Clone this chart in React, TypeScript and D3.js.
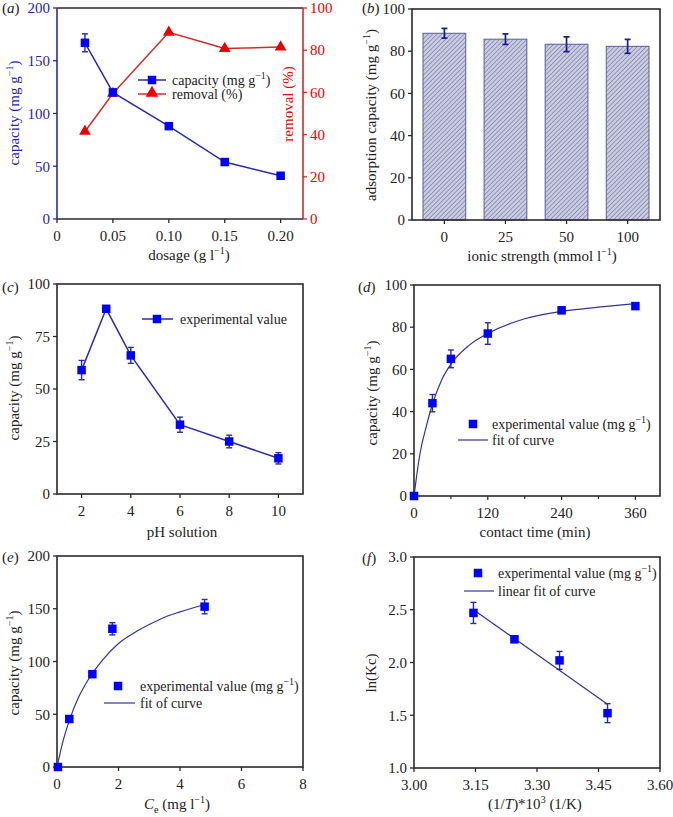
import React from 'react';
import * as d3 from 'd3';

const SERIF = 'Liberation Serif';
const AXIS = '#2a2a2a';
const NAVY = '#2b2ba6';
const BLUE = '#0000ff';
const RED_LINE = '#d42a2a';
const RED = '#ee0000';
const FIT = '#33339c';
const LEFT_BLUE = '#2424c0';

// ---------- (a) dosage ----------
const dosage = [0.025, 0.05, 0.1, 0.15, 0.2];
const dosageCapacity = [167, 120, 88, 54, 41];
const dosageCapacityErr = [8.5, 3, 2, 2, 2];
const dosageRemoval = [41.5, 59.5, 88.5, 80.8, 81.5];
const aXTicks = [0, 0.05, 0.1, 0.15, 0.2];
const aXTickLabels = ['0', '0.05', '0.10', '0.15', '0.20'];
const aYLeftTicks = [0, 50, 100, 150, 200];
const aYRightTicks = [0, 20, 40, 60, 80, 100];

// ---------- (b) ionic strength ----------
const ionicCats = ['0', '25', '50', '100'];
const ionicValues = [88.5, 85.7, 83.3, 82.3];
const ionicErr = [2.3, 2.5, 3.5, 3.3];
const bYTicks = [0, 20, 40, 60, 80, 100];

// ---------- (c) pH ----------
const ph = [2, 3, 4, 6, 8, 10];
const phCapacity = [59, 88.2, 66, 33, 25, 17];
const phErr = [4.6, 1, 3.8, 3.6, 3, 2.7];
const cXTicks = [2, 4, 6, 8, 10];
const cYTicks = [0, 25, 50, 75, 100];

// ---------- (d) contact time ----------
const time = [0, 30, 60, 120, 240, 360];
const timeCapacity = [0, 44, 65, 77, 88, 90];
const timeErr = [0, 4.1, 4.2, 5.1, 1.5, 1.5];
const timeFitX = [0, 5, 10, 20, 30, 45, 60, 90, 120, 180, 240, 300, 360];
const timeFitY = [0, 11, 20.5, 33, 43.5, 55, 62.5, 71.5, 77, 84, 87.5, 89.5, 91.2];
const dXTicks = [0, 120, 240, 360];
const dXMinor = [60, 180, 300];
const dYTicks = [0, 20, 40, 60, 80, 100];

// ---------- (e) Ce ----------
const ce = [0.03, 0.4, 1.15, 1.8, 4.8];
const ceCapacity = [0, 45.5, 88, 131, 152];
const ceErr = [0, 1.5, 2, 5.8, 6.8];
const ceFitX = [0, 0.1, 0.2, 0.4, 0.7, 1.0, 1.5, 2.0, 2.5, 3.0, 3.5, 4.0, 4.8];
const ceFitY = [0, 13, 25, 44, 66, 82, 102, 117, 127, 135, 142, 147, 154];
const eXTicks = [0, 2, 4, 6, 8];
const eYTicks = [0, 50, 100, 150, 200];

// ---------- (f) thermodynamics ----------
const invT = [3.145, 3.245, 3.355, 3.472];
const lnKc = [2.47, 2.22, 2.02, 1.52];
const lnKcErr = [0.1, 0.03, 0.085, 0.09];
const lnFitX = [3.145, 3.472];
const lnFitY = [2.5, 1.605];
const fXTicks = [3.0, 3.15, 3.3, 3.45, 3.6];
const fYTicks = [1.0, 1.5, 2.0, 2.5, 3.0];

type Scale = (v: any) => number;

function ErrBar({ x, lo, hi, color, cap = 6, w = 1.4 }: { x: number; lo: number; hi: number; color: string; cap?: number; w?: number }) {
  return (
    <g stroke={color} strokeWidth={w}>
      <line x1={x} x2={x} y1={lo} y2={hi} />
      <line x1={x - cap / 2} x2={x + cap / 2} y1={lo} y2={lo} />
      <line x1={x - cap / 2} x2={x + cap / 2} y1={hi} y2={hi} />
    </g>
  );
}

function Sq({ x, y, s = 8.5 }: { x: number; y: number; s?: number }) {
  return <rect x={x - s / 2} y={y - s / 2} width={s} height={s} fill={BLUE} />;
}

function supU(t: string, after: string) {
  return (
    <>
      <tspan dy={-6} fontSize={10}>{t}</tspan>
      <tspan dy={6}>{after}</tspan>
    </>
  );
}

const T = (props: any) => <text {...props} style={{ fontFamily: SERIF + ', serif' }} />;

function PanelLabel({ x, y, letter }: { x: number; y: number; letter: string }) {
  return (
    <T x={x} y={y} fontSize={15} fill="#222">
      (<tspan fontStyle="italic">{letter}</tspan>)
    </T>
  );
}

function XAxis({ sx, y, ticks, labels, minor = [], color = AXIS }: { sx: Scale; y: number; ticks: any[]; labels: string[]; minor?: any[]; color?: string }) {
  return (
    <g>
      {ticks.map((t, i) => (
        <g key={'t' + i}>
          <line x1={sx(t)} x2={sx(t)} y1={y} y2={y + 4} stroke={color} strokeWidth={1.3} />
          <T x={sx(t)} y={y + 22} textAnchor="middle" fontSize={15} fill="#222">{labels[i]}</T>
        </g>
      ))}
      {minor.map((t, i) => (
        <line key={'m' + i} x1={sx(t)} x2={sx(t)} y1={y} y2={y + 3} stroke={color} strokeWidth={1.2} />
      ))}
    </g>
  );
}

function YAxis({ sy, x, ticks, labels, color = AXIS, textColor = '#222', right = false }: { sy: Scale; x: number; ticks: number[]; labels: string[]; color?: string; textColor?: string; right?: boolean }) {
  const dir = right ? 1 : -1;
  return (
    <g>
      {ticks.map((t, i) => (
        <g key={i}>
          <line x1={x} x2={x + dir * 4} y1={sy(t)} y2={sy(t)} stroke={color} strokeWidth={1.3} />
          <T x={x + dir * 7} y={sy(t)} dy="0.35em" textAnchor={right ? 'start' : 'end'} fontSize={15} fill={textColor}>{labels[i]}</T>
        </g>
      ))}
    </g>
  );
}

function Box({ x0, x1, y0, y1 }: { x0: number; x1: number; y0: number; y1: number }) {
  return <rect x={x0} y={y0} width={x1 - x0} height={y1 - y0} fill="none" stroke={AXIS} strokeWidth={1.6} />;
}

function YTitle({ x, y, children, color = '#222' }: { x: number; y: number; children: any; color?: string }) {
  return (
    <T transform={`translate(${x},${y}) rotate(-90)`} textAnchor="middle" fontSize={15} fill={color}>
      {children}
    </T>
  );
}

function XTitle({ x, y, children }: { x: number; y: number; children: any }) {
  return (
    <T x={x} y={y} textAnchor="middle" fontSize={15} fill="#222">
      {children}
    </T>
  );
}

function PanelA() {
  const b = { x0: 57, x1: 303, y0: 8, y1: 219 };
  const sx = d3.scaleLinear().domain([0, 0.22]).range([b.x0, b.x1]);
  const syL = d3.scaleLinear().domain([0, 200]).range([b.y1, b.y0]);
  const syR = d3.scaleLinear().domain([0, 100]).range([b.y1, b.y0]);
  const capLine = d3.line<number>().x((_, i) => sx(dosage[i])).y((d) => syL(d))(dosageCapacity) || '';
  const remLine = d3.line<number>().x((_, i) => sx(dosage[i])).y((d) => syR(d))(dosageRemoval) || '';
  const tri = d3.symbol().type(d3.symbolTriangle).size(60)() || '';
  const triL = d3.symbol().type(d3.symbolTriangle).size(70)() || '';
  return (
    <g>
      <line x1={b.x0} x2={b.x1} y1={b.y0} y2={b.y0} stroke={AXIS} strokeWidth={1.6} />
      <line x1={b.x0} x2={b.x1} y1={b.y1} y2={b.y1} stroke={AXIS} strokeWidth={1.6} />
      <line x1={b.x0} x2={b.x0} y1={b.y0} y2={b.y1} stroke={NAVY} strokeWidth={1.6} />
      <line x1={b.x1} x2={b.x1} y1={b.y0} y2={b.y1} stroke={RED_LINE} strokeWidth={1.6} />
      <XAxis sx={sx} y={b.y1} ticks={aXTicks} labels={aXTickLabels} />
      <YAxis sy={syL} x={b.x0} ticks={aYLeftTicks} labels={aYLeftTicks.map(String)} color={NAVY} textColor={LEFT_BLUE} />
      <YAxis sy={syR} x={b.x1} ticks={aYRightTicks} labels={aYRightTicks.map(String)} color={RED_LINE} textColor={RED} right />
      <path d={capLine} fill="none" stroke={NAVY} strokeWidth={1.5} />
      <path d={remLine} fill="none" stroke={RED_LINE} strokeWidth={1.5} />
      {dosage.map((d, i) => (
        <ErrBar key={'e' + i} x={sx(d)} lo={syL(dosageCapacity[i] - dosageCapacityErr[i])} hi={syL(dosageCapacity[i] + dosageCapacityErr[i])} color={NAVY} />
      ))}
      {dosage.map((d, i) => (
        <path key={'t' + i} d={tri} transform={`translate(${sx(d)},${syR(dosageRemoval[i])})`} fill={RED} />
      ))}
      {dosage.map((d, i) => (
        <Sq key={'s' + i} x={sx(d)} y={syL(dosageCapacity[i])} />
      ))}
      {/* legend */}
      <line x1={138} x2={166} y1={80} y2={80} stroke={NAVY} strokeWidth={1.5} />
      <Sq x={152} y={80} />
      <T x={172} y={80} dy="0.35em" fontSize={14} fill="#222">capacity (mg g{supU('−1', ')')}</T>
      <line x1={138} x2={166} y1={94} y2={94} stroke={RED_LINE} strokeWidth={1.5} />
      <path d={triL} transform={`translate(152,93)`} fill={RED} />
      <T x={172} y={94} dy="0.35em" fontSize={14} fill="#222">removal (%)</T>
      <XTitle x={189} y={260}>dosage (g l{supU('−1', ')')}</XTitle>
      <YTitle x={19} y={113} color={LEFT_BLUE}>capacity (mg g{supU('−1', ')')}</YTitle>
      <YTitle x={293} y={104} color={RED}>removal (%)</YTitle>
      <PanelLabel x={2} y={13} letter="a" />
    </g>
  );
}

function PanelB() {
  const b = { x0: 412, x1: 660, y0: 9, y1: 220 };
  const sx = d3.scaleBand<string>().domain(ionicCats).range([b.x0, b.x1]).paddingInner(0.3).paddingOuter(0.18);
  const sy = d3.scaleLinear().domain([0, 100]).range([b.y1, b.y0]);
  const bw = sx.bandwidth();
  const center = (c: string) => (sx(c) as number) + bw / 2;
  return (
    <g>
      <defs>
        <pattern id="hatch" patternUnits="userSpaceOnUse" width={3.2} height={3.2} patternTransform="rotate(45)">
          <rect width={3.2} height={3.2} fill="#cbcbe0" />
          <line x1={0} y1={0} x2={0} y2={3.2} stroke="#6a6aa4" strokeWidth={1.1} />
        </pattern>
      </defs>
      {ionicCats.map((c, i) => (
        <rect key={c} x={sx(c)} y={sy(ionicValues[i])} width={bw} height={b.y1 - sy(ionicValues[i])} fill="url(#hatch)" stroke="#5c5c9c" strokeWidth={1} />
      ))}
      {ionicCats.map((c, i) => (
        <ErrBar key={'e' + c} x={center(c)} lo={sy(ionicValues[i] - ionicErr[i])} hi={sy(ionicValues[i] + ionicErr[i])} color="#1c1c88" w={1.7} cap={6} />
      ))}
      <Box {...b} />
      <XAxis sx={center} y={b.y1} ticks={ionicCats} labels={ionicCats} />
      <YAxis sy={sy} x={b.x0} ticks={bYTicks} labels={bYTicks.map(String)} />
      <XTitle x={542} y={261}>ionic strength (mmol l{supU('−1', ')')}</XTitle>
      <YTitle x={376} y={115}>adsorption capacity (mg g{supU('−1', ')')}</YTitle>
      <PanelLabel x={362} y={13} letter="b" />
    </g>
  );
}

function PanelC() {
  const b = { x0: 57, x1: 303, y0: 284, y1: 494 };
  const sx = d3.scaleLinear().domain([1, 11]).range([b.x0, b.x1]);
  const sy = d3.scaleLinear().domain([0, 100]).range([b.y1, b.y0]);
  const line = d3.line<number>().x((_, i) => sx(ph[i])).y((d) => sy(d))(phCapacity) || '';
  return (
    <g>
      <Box {...b} />
      <XAxis sx={sx} y={b.y1} ticks={cXTicks} labels={cXTicks.map(String)} />
      <YAxis sy={sy} x={b.x0} ticks={cYTicks} labels={cYTicks.map(String)} />
      <path d={line} fill="none" stroke={NAVY} strokeWidth={1.5} />
      {ph.map((p, i) => (
        <ErrBar key={'e' + i} x={sx(p)} lo={sy(phCapacity[i] - phErr[i])} hi={sy(phCapacity[i] + phErr[i])} color={NAVY} />
      ))}
      {ph.map((p, i) => (
        <Sq key={'s' + i} x={sx(p)} y={sy(phCapacity[i])} />
      ))}
      <line x1={142} x2={173} y1={319} y2={319} stroke={NAVY} strokeWidth={1.5} />
      <Sq x={157} y={319} />
      <T x={180} y={319} dy="0.35em" fontSize={14} fill="#222">experimental value</T>
      <XTitle x={182} y={537}>pH solution</XTitle>
      <YTitle x={19} y={388}>capacity (mg g{supU('−1', ')')}</YTitle>
      <PanelLabel x={2} y={292} letter="c" />
    </g>
  );
}

function PanelD() {
  const b = { x0: 414, x1: 660, y0: 285, y1: 496 };
  const sx = d3.scaleLinear().domain([0, 400]).range([b.x0, b.x1]);
  const sy = d3.scaleLinear().domain([0, 100]).range([b.y1, b.y0]);
  const fit = d3.line<number>().x((_, i) => sx(timeFitX[i])).y((d) => sy(d)).curve(d3.curveMonotoneX)(timeFitY) || '';
  return (
    <g>
      <Box {...b} />
      <XAxis sx={sx} y={b.y1} ticks={dXTicks} labels={dXTicks.map(String)} minor={dXMinor} />
      <YAxis sy={sy} x={b.x0} ticks={dYTicks} labels={dYTicks.map(String)} />
      <path d={fit} fill="none" stroke={FIT} strokeWidth={1.2} />
      {time.map((t, i) =>
        timeErr[i] > 0 ? (
          <ErrBar key={'e' + i} x={sx(t)} lo={sy(timeCapacity[i] - timeErr[i])} hi={sy(timeCapacity[i] + timeErr[i])} color={NAVY} />
        ) : null
      )}
      {time.map((t, i) => (
        <Sq key={'s' + i} x={sx(t)} y={sy(timeCapacity[i])} />
      ))}
      <Sq x={473} y={424} />
      <T x={492} y={424} dy="0.35em" fontSize={14} fill="#222">experimental value (mg g{supU('−1', ')')}</T>
      <line x1={458} x2={488} y1={440} y2={440} stroke={FIT} strokeWidth={1.2} />
      <T x={492} y={440} dy="0.35em" fontSize={14} fill="#222">fit of curve</T>
      <XTitle x={535} y={537}>contact time (min)</XTitle>
      <YTitle x={377} y={393}>capacity (mg g{supU('−1', ')')}</YTitle>
      <PanelLabel x={358} y={292} letter="d" />
    </g>
  );
}

function PanelE() {
  const b = { x0: 57, x1: 303, y0: 556, y1: 767 };
  const sx = d3.scaleLinear().domain([0, 8]).range([b.x0, b.x1]);
  const sy = d3.scaleLinear().domain([0, 200]).range([b.y1, b.y0]);
  const fit = d3.line<number>().x((_, i) => sx(ceFitX[i])).y((d) => sy(d)).curve(d3.curveMonotoneX)(ceFitY) || '';
  return (
    <g>
      <Box {...b} />
      <XAxis sx={sx} y={b.y1} ticks={eXTicks} labels={eXTicks.map(String)} />
      <YAxis sy={sy} x={b.x0} ticks={eYTicks} labels={eYTicks.map(String)} />
      <path d={fit} fill="none" stroke={FIT} strokeWidth={1.2} />
      {ce.map((c, i) =>
        ceErr[i] > 0 ? (
          <ErrBar key={'e' + i} x={sx(c)} lo={sy(ceCapacity[i] - ceErr[i])} hi={sy(ceCapacity[i] + ceErr[i])} color={NAVY} />
        ) : null
      )}
      {ce.map((c, i) => (
        <Sq key={'s' + i} x={sx(c)} y={sy(ceCapacity[i])} />
      ))}
      <Sq x={118} y={686} />
      <T x={140} y={686} dy="0.35em" fontSize={14} fill="#222">experimental value (mg g{supU('−1', ')')}</T>
      <line x1={104} x2={135} y1={703} y2={703} stroke={FIT} strokeWidth={1.2} />
      <T x={140} y={703} dy="0.35em" fontSize={14} fill="#222">fit of curve</T>
      <XTitle x={177} y={809}>
        <tspan fontStyle="italic">C</tspan>
        <tspan dy={4} fontSize={10}>e</tspan>
        <tspan dy={-4}> (mg l</tspan>
        {supU('−1', ')')}
      </XTitle>
      <YTitle x={19} y={663}>capacity (mg g{supU('−1', ')')}</YTitle>
      <PanelLabel x={2} y={562} letter="e" />
    </g>
  );
}

function PanelF() {
  const b = { x0: 414, x1: 660, y0: 557, y1: 768 };
  const sx = d3.scaleLinear().domain([3.0, 3.6]).range([b.x0, b.x1]);
  const sy = d3.scaleLinear().domain([1.0, 3.0]).range([b.y1, b.y0]);
  const fit = d3.line<number>().x((_, i) => sx(lnFitX[i])).y((d) => sy(d))(lnFitY) || '';
  return (
    <g>
      <Box {...b} />
      <XAxis sx={sx} y={b.y1} ticks={fXTicks} labels={fXTicks.map((v) => v.toFixed(2))} />
      <YAxis sy={sy} x={b.x0} ticks={fYTicks} labels={fYTicks.map((v) => v.toFixed(1))} />
      <path d={fit} fill="none" stroke={FIT} strokeWidth={1.2} />
      {invT.map((t, i) => (
        <ErrBar key={'e' + i} x={sx(t)} lo={sy(lnKc[i] - lnKcErr[i])} hi={sy(lnKc[i] + lnKcErr[i])} color={NAVY} />
      ))}
      {invT.map((t, i) => (
        <Sq key={'s' + i} x={sx(t)} y={sy(lnKc[i])} />
      ))}
      <Sq x={478} y={573} />
      <T x={498} y={573} dy="0.35em" fontSize={14} fill="#222">experimental value (mg g{supU('−1', ')')}</T>
      <line x1={464} x2={494} y1={591} y2={591} stroke={FIT} strokeWidth={1.2} />
      <T x={498} y={591} dy="0.35em" fontSize={14} fill="#222">linear fit of curve</T>
      <XTitle x={535} y={809}>
        (1/<tspan fontStyle="italic">T</tspan>)*10
        {supU('3', ' (1/K)')}
      </XTitle>
      <YTitle x={376} y={673}>ln(Kc)</YTitle>
      <PanelLabel x={362} y={563} letter="f" />
    </g>
  );
}

export default function App() {
  return (
    <svg width={673} height={817} style={{ position: 'absolute', left: 0, top: 0, background: '#fff', fontFamily: 'Liberation Serif, serif' }}>
      <rect width={673} height={817} fill="#fff" />
      <PanelA />
      <PanelB />
      <PanelC />
      <PanelD />
      <PanelE />
      <PanelF />
    </svg>
  );
}
